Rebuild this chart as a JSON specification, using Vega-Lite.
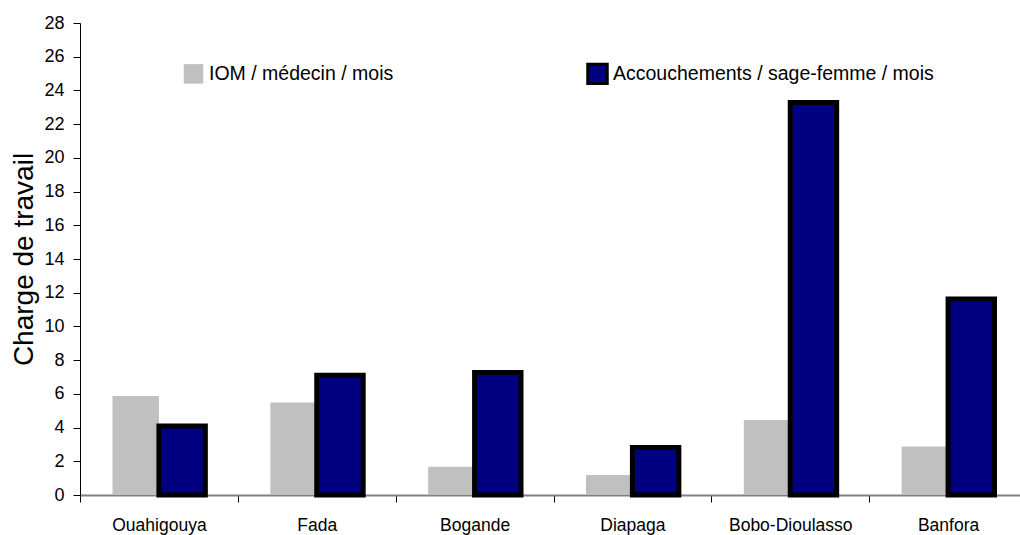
{
  "$schema": "https://vega.github.io/schema/vega-lite/v6.json",
  "width": 947,
  "height": 472,
  "autosize": {"type": "none"},
  "padding": {"left": 80, "top": 23, "right": -7, "bottom": 40},
  "background": "white",
  "config": {
    "font": "Liberation Sans",
    "view": {"stroke": null}
  },
  "data": {
    "values": [
      {"ville": "Ouahigouya", "serie": "IOM / médecin / mois", "valeur": 5.87},
      {"ville": "Ouahigouya", "serie": "Accouchements / sage-femme / mois", "valeur": 4.1},
      {"ville": "Fada", "serie": "IOM / médecin / mois", "valeur": 5.48},
      {"ville": "Fada", "serie": "Accouchements / sage-femme / mois", "valeur": 7.11},
      {"ville": "Bogande", "serie": "IOM / médecin / mois", "valeur": 1.68},
      {"ville": "Bogande", "serie": "Accouchements / sage-femme / mois", "valeur": 7.27},
      {"ville": "Diapaga", "serie": "IOM / médecin / mois", "valeur": 1.19},
      {"ville": "Diapaga", "serie": "Accouchements / sage-femme / mois", "valeur": 2.82},
      {"ville": "Bobo-Dioulasso", "serie": "IOM / médecin / mois", "valeur": 4.45},
      {"ville": "Bobo-Dioulasso", "serie": "Accouchements / sage-femme / mois", "valeur": 23.28},
      {"ville": "Banfora", "serie": "IOM / médecin / mois", "valeur": 2.87},
      {"ville": "Banfora", "serie": "Accouchements / sage-femme / mois", "valeur": 11.62}
    ]
  },
  "mark": {"type": "bar", "strokeWidth": 5, "strokeJoin": "miter"},
  "encoding": {
    "x": {
      "field": "ville",
      "type": "nominal",
      "sort": null,
      "scale": {"paddingInner": 0, "paddingOuter": 0},
      "axis": {
        "title": null,
        "labelAngle": 0,
        "labelFontSize": 17.5,
        "labelColor": "#000000",
        "labelPadding": 14,
        "tickBand": "extent",
        "tickSize": 7,
        "tickColor": "#000000",
        "tickWidth": 1,
        "domainColor": "#808080",
        "domainWidth": 2
      }
    },
    "xOffset": {
      "field": "serie",
      "type": "nominal",
      "sort": ["IOM / médecin / mois", "Accouchements / sage-femme / mois"],
      "scale": {"paddingInner": 0, "paddingOuter": 0.7}
    },
    "y": {
      "field": "valeur",
      "type": "quantitative",
      "scale": {"domain": [0, 28], "nice": false},
      "axis": {
        "title": "Charge de travail",
        "titleFontSize": 28,
        "titleFontWeight": "normal",
        "titleColor": "#000000",
        "titlePadding": 5,
        "values": [0, 2, 4, 6, 8, 10, 12, 14, 16, 18, 20, 22, 24, 26, 28],
        "labelFontSize": 18,
        "labelColor": "#000000",
        "labelPadding": 9,
        "tickSize": 7,
        "tickColor": "#000000",
        "domainColor": "#000000",
        "grid": false
      }
    },
    "color": {
      "field": "serie",
      "type": "nominal",
      "sort": ["IOM / médecin / mois", "Accouchements / sage-femme / mois"],
      "scale": {"range": ["#C0C0C0", "#000080"]},
      "legend": {
        "title": null,
        "orient": "none",
        "legendX": 102,
        "legendY": 39,
        "direction": "horizontal",
        "columns": 2,
        "columnPadding": 187,
        "padding": 0,
        "symbolType": "square",
        "symbolSize": 380,
        "symbolStrokeWidth": 3,
        "symbolOpacity": 1,
        "labelFontSize": 19.5,
        "labelColor": "#000000",
        "labelOffset": 4,
        "labelLimit": 0,
        "encode": {
          "symbols": {
            "update": {
              "stroke": {"signal": "datum.value === 'Accouchements / sage-femme / mois' ? '#000000' : 'transparent'"},
              "strokeWidth": {"value": 3}
            }
          }
        }
      }
    },
    "stroke": {
      "field": "serie",
      "type": "nominal",
      "sort": ["IOM / médecin / mois", "Accouchements / sage-femme / mois"],
      "scale": {"range": ["transparent", "#000000"]},
      "legend": null
    },
    "opacity": {"value": 1}
  }
}
